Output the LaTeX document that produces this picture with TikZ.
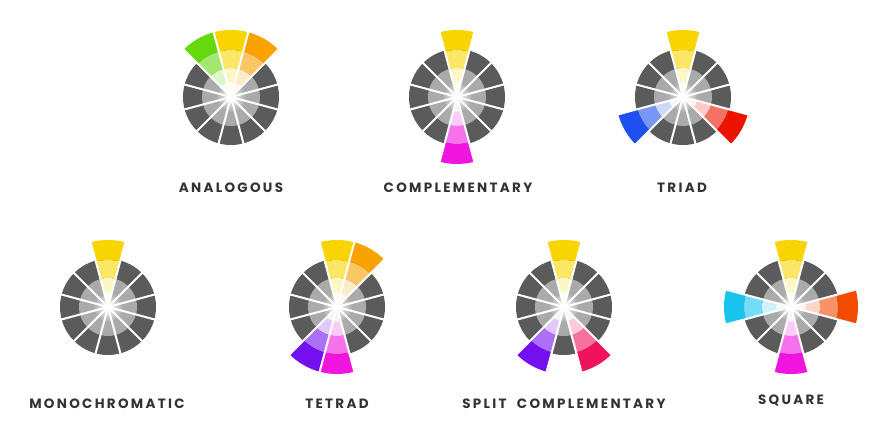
\documentclass[tikz,border=0pt]{standalone}
\usepackage{fontspec}
\usepackage{tikz}
\newfontfamily\lblfont[LetterSpace=17]{Poppins}

\definecolor{ringdark}{HTML}{5B5B5B}
\definecolor{ringmid}{HTML}{AAAAAA}
\definecolor{lbltext}{HTML}{333333}
\definecolor{cyellow}{HTML}{F8D500}
\definecolor{cgreen}{HTML}{66D90E}
\definecolor{corange}{HTML}{F9A200}
\definecolor{cmagenta}{HTML}{F014DF}
\definecolor{cblue}{HTML}{1F4FEE}
\definecolor{cred}{HTML}{EC1300}
\definecolor{cviolet}{HTML}{7410F0}
\definecolor{crose}{HTML}{F0125A}
\definecolor{cvermil}{HTML}{F24B00}
\definecolor{ccyan}{HTML}{18C4EE}

% one ring piece: start angle, inner radius, outer radius, colour
\newcommand{\band}[4]{%
  \fill[#4] (#1:#2) -- (#1:#3) arc[start angle=#1, delta angle=30, radius=#3]
    -- ({#1+30}:#2) arc[start angle={#1+30}, delta angle=-30, radius=#2] -- cycle;}

% a wheel at (x,y) with a list of angle/colour pairs
\newcommand{\wheel}[3]{%
  \begin{scope}[shift={(#1,#2)}]
    \fill[ringdark] (0,0) circle (48);
    \fill[ringmid] (0,0) circle (29);
    \shade[inner color=white, outer color=ringmid] (0,0) circle (15);
    \foreach \a/\c in {#3} {
      \pgfmathsetmacro\s{\a-15}
      \band{\s}{0.01}{15}{\c!6!white}
      \band{\s}{15}{29}{\c!22!white}
      \band{\s}{29}{47}{\c!60!white}
      \band{\s}{47}{67}{\c}
    }
    \foreach \a in {15,45,...,345}
      \draw[gap] (0,0) -- (\a:72);
  \end{scope}}

\tikzset{
  gap/.style={white, line width=2pt, line cap=round},
  wheellabel/.style={text=lbltext, font=\lblfont\bfseries\fontsize{13.5}{14}\selectfont, inner sep=0pt}
}

\begin{document}
\begin{tikzpicture}[x=1pt, y=1pt]
\useasboundingbox (0,0) rectangle (884,422);

% Top row
\wheel{231}{325}{90/cyellow, 120/cgreen, 60/corange}
\wheel{457}{325}{90/cyellow, 270/cmagenta}
\wheel{683}{325}{90/cyellow, 210/cblue, 330/cred}

% Bottom row
\wheel{108}{115}{90/cyellow}
\wheel{337}{115}{90/cyellow, 60/corange, 240/cviolet, 270/cmagenta}
\wheel{564}{115}{90/cyellow, 240/cviolet, 300/crose}
\wheel{791}{115}{90/cyellow, 0/cvermil, 180/ccyan, 270/cmagenta}

% Labels
\node[wheellabel] (analogous) at (231,234) {ANALOGOUS};
\node[wheellabel] (complementary) at (458,234) {COMPLEMENTARY};
\node[wheellabel] (triad) at (682,234) {TRIAD};
\node[wheellabel] (monochromatic) at (107,18) {MONOCHROMATIC};
\node[wheellabel] (tetrad) at (337,18) {TETRAD};
\node[wheellabel] (splitcomp) at (564,18) {SPLIT\ \ COMPLEMENTARY};
\node[wheellabel] (square) at (791,21) {SQUARE};
\end{tikzpicture}
\end{document}
